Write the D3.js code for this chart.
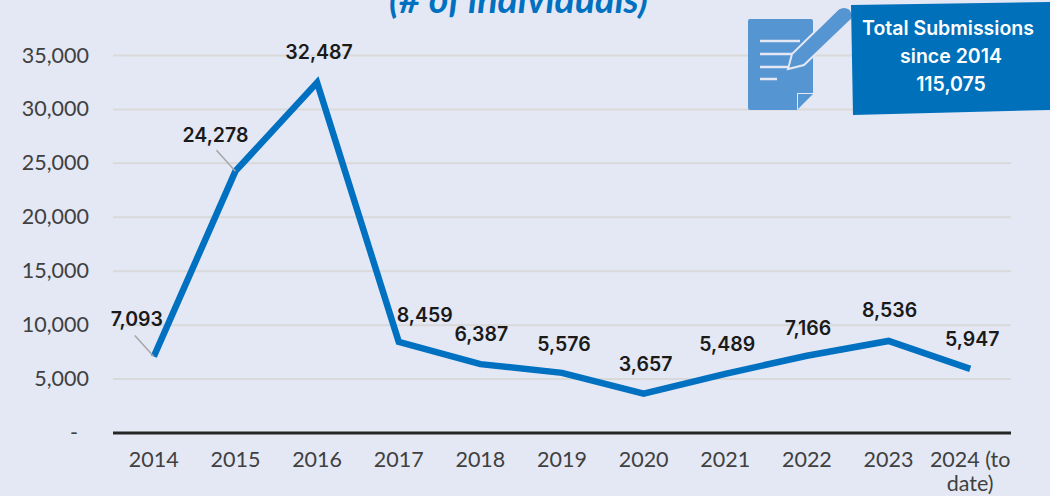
<!DOCTYPE html>
<html><head><meta charset="utf-8">
<script src="https://cdnjs.cloudflare.com/ajax/libs/d3/7.8.5/d3.min.js"></script>
<style>html,body{margin:0;padding:0;background:#e4e8f5;overflow:hidden}svg{display:block}</style>
</head><body><svg id="c" width="1050" height="496"></svg>
<script>
const categories=["2014","2015","2016","2017","2018","2019","2020","2021","2022","2023","2024 (to date)"];
const submissions=[7093,24278,32487,8459,6387,5576,3657,5489,7166,8536,5947];
const yTicks=[0,5000,10000,15000,20000,25000,30000,35000];
const labelOffsets=[[-17,-30],[-20,-29],[2,-24],[26,-20],[1,-23],[2,-22],[2,-23],[2,-23],[1,-21],[1,-24],[2,-23]];
const leaderFlags=[true,true,false,false,false,false,false,false,false,false,false];
const titleText="(# of individuals)";
const calloutLines=["Total Submissions","since 2014","115,075"];

const svg=d3.select("#c");
const x=d3.scaleBand().domain(categories).range([113,1011]);
const y=d3.scaleLinear().domain([0,35000]).range([433,55.5]);
const cx=c=>x(c)+x.bandwidth()/2;
const sans="Lato,'Open Sans',sans-serif";
const bg="#e4e8f5";

svg.append("text").attr("x",518.5).attr("y",13).attr("text-anchor","middle")
  .attr("font-family",sans).attr("font-size",37.5).attr("font-weight",700).attr("font-style","italic")
  .attr("fill","#0070c0").text(titleText);

svg.append("g").selectAll("line").data(yTicks.filter(d=>d>0)).join("line")
  .attr("x1",113).attr("x2",1011).attr("y1",d=>y(d)).attr("y2",d=>y(d))
  .attr("stroke","#d9d9d9").attr("stroke-width",2);

svg.append("g").selectAll("text").data(yTicks).join("text")
  .attr("x",d=>d===0?78:89).attr("y",d=>y(d)+7).attr("text-anchor","end")
  .attr("font-family",sans).attr("font-size",21.5).attr("fill","#404040")
  .text(d=>d===0?"-":d3.format(",")(d));

svg.append("line").attr("x1",113).attr("x2",1011).attr("y1",433).attr("y2",433)
  .attr("stroke","#262626").attr("stroke-width",3);

const xl=svg.append("g").selectAll("text").data(categories).join("text")
  .attr("text-anchor","middle").attr("font-family",sans).attr("font-size",21.5).attr("fill","#404040")
  .attr("y",467);
xl.each(function(d){
  const t=d3.select(this);
  const parts=d.includes("(")?["2024 (to","date)"]:[d];
  parts.forEach((p,i)=>t.append("tspan").attr("x",cx(d)).attr("dy",i?24:0).text(p));
});

const line=d3.line().x((d,i)=>cx(categories[i])).y(d=>y(d)).curve(d3.curveLinear);
svg.append("path").attr("d",line(submissions)).attr("fill","none")
  .attr("stroke","#0070c0").attr("stroke-width",6.5).attr("stroke-linejoin","miter");

submissions.forEach((v,i)=>{
  if(!leaderFlags[i])return;
  const px=cx(categories[i]),py=y(v);
  svg.append("line").attr("x1",px-19).attr("y1",py-21).attr("x2",px).attr("y2",py)
    .attr("stroke","#a6a6a6").attr("stroke-width",1.5);
});

svg.append("g").selectAll("text").data(submissions).join("text")
  .attr("x",(d,i)=>cx(categories[i])+labelOffsets[i][0])
  .attr("y",(d,i)=>y(d)+labelOffsets[i][1])
  .attr("text-anchor","middle").attr("font-family","Inter,Roboto,sans-serif").attr("font-size",19.5).attr("font-weight",600)
  .attr("fill","#1a1a1a").text(d=>d3.format(",")(d));

// document + pen icon
const icon=svg.append("g");
icon.append("path").attr("fill","#5595d2")
  .attr("d","M750 19H811Q813 19 813 21V93H797V110H750Q748 110 748 108V21Q748 19 750 19Z");
icon.append("path").attr("fill","#5595d2").attr("d","M798 94H813L798 109Z");
icon.selectAll("line.r").data([[760,800,41],[760,792,54],[760,788,67],[760,777,79]]).join("line")
  .attr("x1",d=>d[0]).attr("x2",d=>d[1]).attr("y1",d=>d[2]).attr("y2",d=>d[2])
  .attr("stroke",bg).attr("stroke-width",2.5);
icon.append("path").attr("fill","#5595d2").attr("stroke",bg).attr("stroke-width",2)
  .attr("d","M788 69L792 54L838 9Q844 5 850 9L853 14Q853 19 850 21L804 65Z");

// callout
svg.append("path").attr("fill","#0070bb").attr("d","M851 5L1050 2V110L853 115Z");
svg.append("g").selectAll("text").data(calloutLines).join("text")
  .attr("x",(d,i)=>[948,951,951][i]).attr("y",(d,i)=>[35,63,91][i])
  .attr("text-anchor","middle").attr("font-family","Inter,Roboto,sans-serif").attr("font-size",19.5).attr("font-weight",600)
  .attr("fill","#fff").text(d=>d);
</script></body></html>
